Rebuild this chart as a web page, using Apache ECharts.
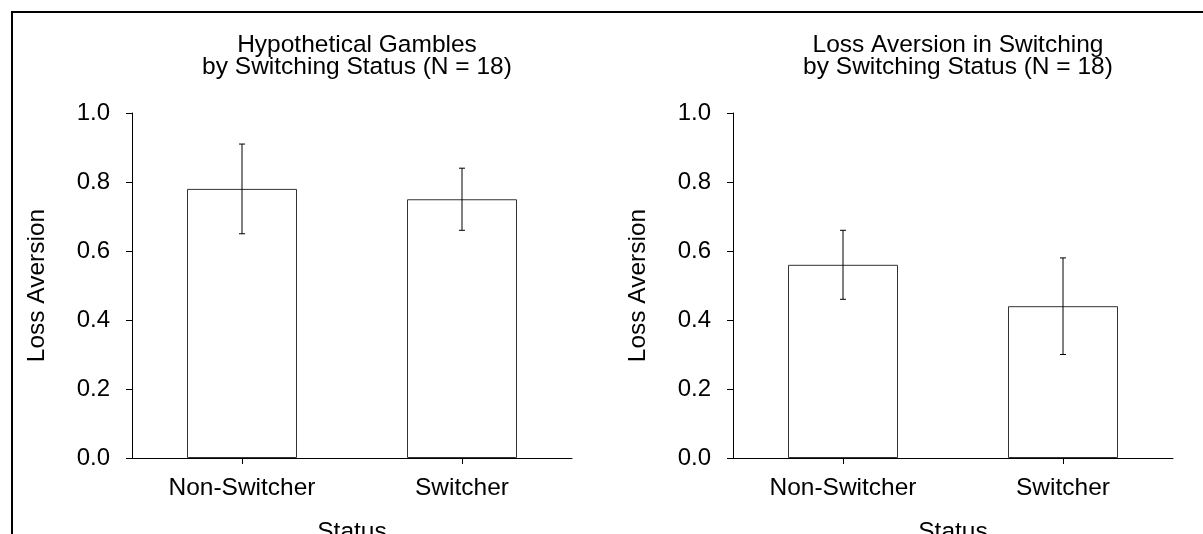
<!DOCTYPE html>
<html>
<head>
<meta charset="utf-8">
<script src="https://cdn.jsdelivr.net/npm/echarts@6/dist/echarts.min.js"></script>
<style>
html,body{margin:0;padding:0;background:#fff;overflow:hidden;}
#chart{width:1203px;height:534px;}
</style>
</head>
<body>
<div id="chart"></div>
<script>
const categories = ['Non-Switcher', 'Switcher'];
const gamblesMean = [0.78, 0.75];
const gamblesLow = [0.65, 0.66];
const gamblesHigh = [0.91, 0.84];
const switchMean = [0.56, 0.44];
const switchLow = [0.46, 0.30];
const switchHigh = [0.66, 0.58];
const titles = ['Hypothetical Gambles\nby Switching Status (N = 18)', 'Loss Aversion in Switching\nby Switching Status (N = 18)'];
const yName = 'Loss Aversion';
const xName = 'Status';

const FONT = 'Liberation Sans, Arial, sans-serif';
const FS = 24.5;
const FT = 24;
const grids = [
  {left: 132, top: 113, width: 440, height: 345, outerBoundsMode: 'none', containLabel: false},
  {left: 733, top: 113, width: 440, height: 345, outerBoundsMode: 'none', containLabel: false}
];

function errData(low, high) {
  return categories.map((c, i) => [i, low[i], high[i]]);
}
function renderErr(params, api) {
  const x = api.value(0);
  const lo = api.coord([x, api.value(1)]);
  const hi = api.coord([x, api.value(2)]);
  const cap = 3;
  const st = {stroke: '#000', lineWidth: 1};
  return {type: 'group', children: [
    {type: 'line', shape: {x1: lo[0], y1: lo[1], x2: hi[0], y2: hi[1]}, style: st},
    {type: 'line', shape: {x1: lo[0] - cap, y1: lo[1], x2: lo[0] + cap, y2: lo[1]}, style: st},
    {type: 'line', shape: {x1: hi[0] - cap, y1: hi[1], x2: hi[0] + cap, y2: hi[1]}, style: st}
  ]};
}

const xAxes = grids.map((g, i) => ({
  type: 'category', gridIndex: i, data: categories,
  name: xName, nameLocation: 'middle', nameGap: 62,
  nameTextStyle: {fontFamily: FONT, fontSize: FS, color: '#000'},
  axisLine: {lineStyle: {color: '#000', width: 1}},
  axisTick: {show: true, alignWithLabel: true, length: 6, lineStyle: {color: '#000'}},
  axisLabel: {fontFamily: FONT, fontSize: FS, color: '#000', margin: 18}
}));
const yAxes = grids.map((g, i) => ({
  type: 'value', gridIndex: i, min: 0, max: 1, interval: 0.2,
  name: yName, nameLocation: 'middle', nameGap: 82, nameRotate: 90,
  nameTextStyle: {fontFamily: FONT, fontSize: FS, color: '#000'},
  axisLine: {show: true, lineStyle: {color: '#000', width: 1}},
  axisTick: {show: true, length: 6, lineStyle: {color: '#000'}},
  splitLine: {show: false},
  axisLabel: {fontFamily: FONT, fontSize: FT, color: '#000', margin: 22, formatter: v => v.toFixed(1)}
}));

const option = {
  animation: false,
  backgroundColor: '#fff',
  title: grids.map((g, i) => ({
    text: titles[i], left: g.left + g.width / 2, top: 29, textAlign: 'center',
    textStyle: {fontFamily: FONT, fontSize: FS, fontWeight: 'normal', color: '#000', lineHeight: 22}
  })),
  grid: grids,
  xAxis: xAxes,
  yAxis: yAxes,
  graphic: [{
    type: 'rect', shape: {x: 12, y: 12, width: 1400, height: 800},
    style: {fill: 'none', stroke: '#000', lineWidth: 2}, silent: true, z: 100
  }],
  series: [
    {type: 'bar', xAxisIndex: 0, yAxisIndex: 0, data: gamblesMean, barWidth: '50%',
     itemStyle: {color: '#fff', borderColor: '#333', borderWidth: 1}},
    {type: 'custom', xAxisIndex: 0, yAxisIndex: 0, data: errData(gamblesLow, gamblesHigh), renderItem: renderErr, z: 10},
    {type: 'bar', xAxisIndex: 1, yAxisIndex: 1, data: switchMean, barWidth: '50%',
     itemStyle: {color: '#fff', borderColor: '#333', borderWidth: 1}},
    {type: 'custom', xAxisIndex: 1, yAxisIndex: 1, data: errData(switchLow, switchHigh), renderItem: renderErr, z: 10}
  ]
};
const chart = echarts.init(document.getElementById('chart'), null, {renderer: 'canvas'});
chart.setOption(option);
</script>
</body>
</html>
